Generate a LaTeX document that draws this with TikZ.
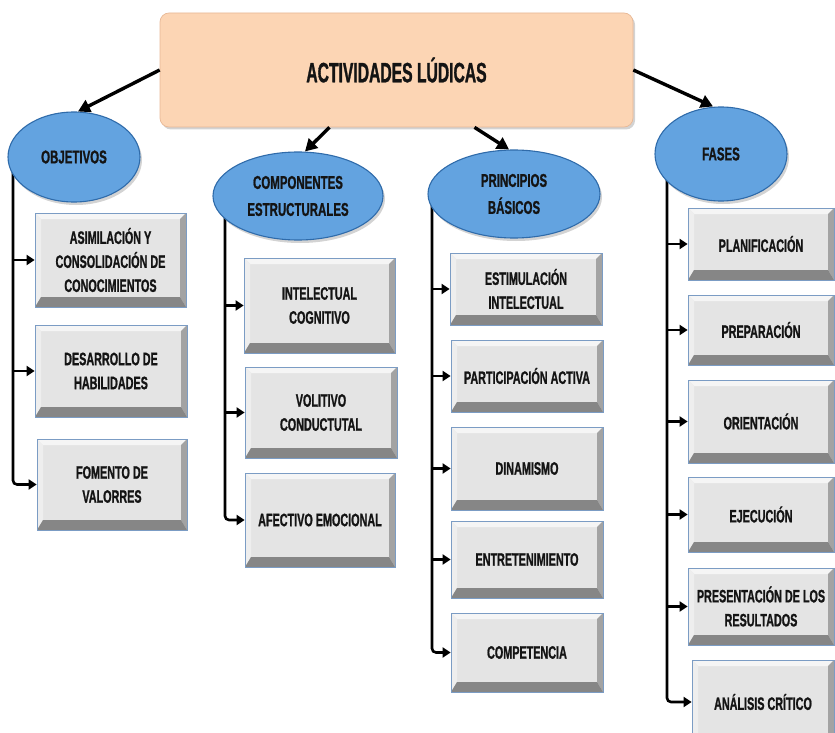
\documentclass[tikz,border=0pt]{standalone}
\usepackage{fontspec}
\newfontfamily\tfont{Liberation Sans}[FakeStretch=0.56, FakeBold=1]
\newfontfamily\efont{Liberation Sans}[FakeStretch=0.62, FakeBold=1]
\newfontfamily\bfont{Liberation Sans}[FakeStretch=0.6, FakeBold=1]
\usetikzlibrary{shapes.geometric,arrows.meta,shadows,calc}
\pgfdeclarelayer{bg}
\pgfsetlayers{bg,main}
\definecolor{peach}{HTML}{FCD5B4}
\definecolor{peachedge}{HTML}{E8B896}
\definecolor{ellfill}{HTML}{63A3E0}
\definecolor{elledge}{HTML}{2F6BAA}
\definecolor{boxface}{HTML}{E4E4E4}
\definecolor{bvtop}{HTML}{F5F5F5}
\definecolor{bvleft}{HTML}{EEEEEE}
\definecolor{bvright}{HTML}{A3A3A3}
\definecolor{bvbot}{HTML}{868686}
\definecolor{boxedge}{HTML}{7B9CC4}
\definecolor{txt}{HTML}{141414}
\begin{document}
\begin{tikzpicture}[x=1pt,y=-1pt,
  mainbox/.style={rectangle, rounded corners=9pt, fill=peach, draw=peachedge, line width=0.7pt,
    minimum width=473pt, minimum height=114pt, inner sep=0pt,
    drop shadow={opacity=0.35, shadow xshift=2pt, shadow yshift=-2.5pt},
    font=\tfont\bfseries\fontsize{28}{32}\selectfont, text=txt},
  cat/.style={ellipse, fill=ellfill, draw=elledge, line width=1.1pt, inner sep=0pt,
    drop shadow={opacity=0.35, shadow xshift=2pt, shadow yshift=-3pt},
    align=center, font=\efont\bfseries\fontsize{18.5}{27}\selectfont, text=txt},
  item/.style={rectangle, fill=boxface, draw=boxedge, line width=0.8pt, inner sep=0pt,
    align=center, font=\bfont\bfseries\fontsize{18}{24}\selectfont, text=txt,
    path picture={
      \fill[bvtop] (path picture bounding box.north west) -- (path picture bounding box.north east)
        -- ([shift={(-6pt,-6pt)}]path picture bounding box.north east)
        -- ([shift={(6pt,-6pt)}]path picture bounding box.north west) -- cycle;
      \fill[bvleft] (path picture bounding box.north west) -- ([shift={(6pt,-6pt)}]path picture bounding box.north west)
        -- ([shift={(6pt,10pt)}]path picture bounding box.south west) -- (path picture bounding box.south west) -- cycle;
      \fill[bvright] (path picture bounding box.north east) -- (path picture bounding box.south east)
        -- ([shift={(-6pt,10pt)}]path picture bounding box.south east)
        -- ([shift={(-6pt,-6pt)}]path picture bounding box.north east) -- cycle;
      \fill[bvbot] (path picture bounding box.south west) -- ([shift={(6pt,10pt)}]path picture bounding box.south west)
        -- ([shift={(-6pt,10pt)}]path picture bounding box.south east) -- (path picture bounding box.south east) -- cycle;
    }},
  bigarrow/.style={line width=3.4pt, draw=black, -{Triangle[length=12pt,width=13pt]}},
  spine/.style={line width=2.6pt, draw=black, rounded corners=4pt, -{Triangle[length=8pt,width=10pt]}}
]
\useasboundingbox (0,0) rectangle (835,733);

% main node
\node[mainbox] (main) at (396.5,70) {ACTIVIDADES LÚDICAS};

% categories
\node[cat, minimum width=132pt, minimum height=90pt] (obj) at (74,157) {OBJETIVOS};
\node[cat, minimum width=170pt, minimum height=88pt] (comp) at (298,196) {COMPONENTES\\ESTRUCTURALES};
\node[cat, minimum width=172pt, minimum height=88pt] (prin) at (514,194) {PRINCIPIOS\\BÁSICOS};
\node[cat, minimum width=132pt, minimum height=94pt] (fas) at (721,154) {FASES};

% objetivos
\node[item, minimum width=151pt, minimum height=94pt] (o1) at (110.5,260) {ASIMILACIÓN Y\\CONSOLIDACIÓN DE\\CONOCIMIENTOS};
\node[item, minimum width=152pt, minimum height=92pt] (o2) at (111,371) {DESARROLLO DE\\HABILIDADES};
\node[item, minimum width=150pt, minimum height=91pt] (o3) at (112,484.5) {FOMENTO DE\\VALORRES};

% componentes
\node[item, minimum width=151pt, minimum height=95pt] (c1) at (319.5,305.5) {INTELECTUAL\\COGNITIVO};
\node[item, minimum width=152pt, minimum height=91pt] (c2) at (321,412.5) {VOLITIVO\\CONDUCTUTAL};
\node[item, minimum width=150pt, minimum height=94pt] (c3) at (320,520) {AFECTIVO EMOCIONAL};

% principios
\node[item, minimum width=152pt, minimum height=72pt] (p1) at (526,289) {ESTIMULACIÓN\\INTELECTUAL};
\node[item, minimum width=152pt, minimum height=72pt] (p2) at (527,376) {PARTICIPACIÓN ACTIVA};
\node[item, minimum width=152pt, minimum height=83pt] (p3) at (527,468.5) {DINAMISMO};
\node[item, minimum width=152pt, minimum height=77pt] (p4) at (527,559.5) {ENTRETENIMIENTO};
\node[item, minimum width=152pt, minimum height=79pt] (p5) at (527,652.5) {COMPETENCIA};

% fases
\node[item, minimum width=146pt, minimum height=72pt] (f1) at (761,244) {PLANIFICACIÓN};
\node[item, minimum width=146pt, minimum height=70pt] (f2) at (761,330) {PREPARACIÓN};
\node[item, minimum width=146pt, minimum height=83pt] (f3) at (761,421.5) {ORIENTACIÓN};
\node[item, minimum width=146pt, minimum height=75pt] (f4) at (761,514.5) {EJECUCIÓN};
\node[item, minimum width=146pt, minimum height=77pt] (f5) at (761,606.5) {PRESENTACIÓN DE LOS\\RESULTADOS};
\node[item, minimum width=142pt, minimum height=84pt] (f6) at (763,702) {ANÁLISIS CRÍTICO};

% spine tops (hidden under the ellipses)
\coordinate (objtop) at (13,160);
\coordinate (comptop) at (225,200);
\coordinate (printop) at (432,198);
\coordinate (fastop) at (667,158);

\begin{pgfonlayer}{bg}
  \draw[spine] (objtop) |- (o3.west);
  \draw[spine] (comptop) |- (c3.west);
  \draw[spine] (printop) |- (p5.west);
  \draw[spine] (fastop) |- (f6.west);
\end{pgfonlayer}

\foreach \b in {o1,o2} \draw[spine] (objtop |- \b.west) -- (\b.west);
\foreach \b in {c1,c2} \draw[spine] (comptop |- \b.west) -- (\b.west);
\foreach \b in {p1,p2,p3,p4} \draw[spine] (printop |- \b.west) -- (\b.west);
\foreach \b in {f1,f2,f3,f4,f5} \draw[spine] (fastop |- \b.west) -- (\b.west);

% arrows from main box
\draw[bigarrow] (main.west) -- ($(obj.north)+(4,0)$);
\draw[bigarrow] ($(main.south)+(-67,0)$) -- ($(comp.north)+(7,0)$);
\draw[bigarrow] ($(main.south)+(78,0)$) -- ($(prin.north)+(-5,0)$);
\draw[bigarrow] (main.east) -- ($(fas.north)+(-8,0)$);
\end{tikzpicture}
\end{document}
